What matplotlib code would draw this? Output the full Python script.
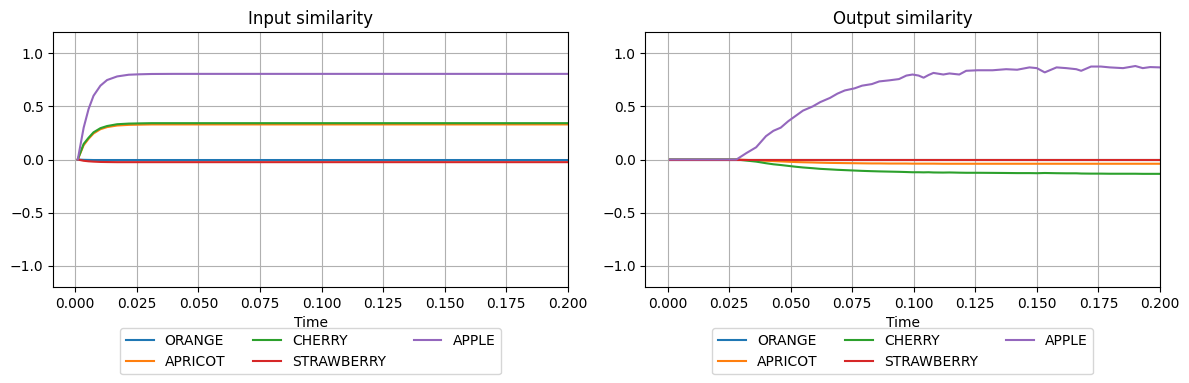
import matplotlib
matplotlib.use("Agg")
import matplotlib.pyplot as plt

labels = ["ORANGE", "APRICOT", "CHERRY", "STRAWBERRY", "APPLE"]

# input similarity
t_in = [0.001, 0.0034, 0.0054, 0.0074, 0.0102, 0.0129, 0.017, 0.0217, 0.026, 0.031, 0.04, 0.06, 0.1, 0.15, 0.2]
in_orange = [0.0, -0.003, -0.004, -0.005, -0.005, -0.005, -0.005, -0.005, -0.005, -0.005, -0.005, -0.005, -0.005, -0.005, -0.005]
in_apricot = [0.0, 0.135, 0.195, 0.245, 0.285, 0.305, 0.32, 0.326, 0.328, 0.33, 0.33, 0.33, 0.33, 0.33, 0.33]
in_cherry = [0.0, 0.147, 0.205, 0.256, 0.295, 0.315, 0.332, 0.338, 0.34, 0.342, 0.342, 0.342, 0.342, 0.342, 0.342]
in_strawberry = [0.0, -0.012, -0.017, -0.02, -0.023, -0.024, -0.025, -0.025, -0.025, -0.025, -0.025, -0.025, -0.025, -0.025, -0.025]
in_apple = [0.0, 0.30, 0.476, 0.60, 0.695, 0.748, 0.782, 0.798, 0.802, 0.805, 0.806, 0.806, 0.806, 0.806, 0.806]

# output similarity
t_out = [0.001, 0.01, 0.02, 0.028, 0.032, 0.036, 0.040, 0.043, 0.046, 0.049, 0.052, 0.055, 0.059, 0.062, 0.066, 0.069,
         0.072, 0.076, 0.079, 0.083, 0.086, 0.090, 0.094, 0.097, 0.0995, 0.102, 0.104, 0.106, 0.108, 0.112, 0.1145,
         0.1185, 0.1213, 0.126, 0.132, 0.1375, 0.142, 0.147, 0.150, 0.1532, 0.158, 0.162, 0.166, 0.168, 0.172,
         0.176, 0.1796, 0.185, 0.19, 0.193, 0.196, 0.2]
out_orange = [0.0] * len(t_out)
out_apricot = [0.0, 0.0, 0.0, 0.0, -0.004, -0.008, -0.012, -0.015, -0.018, -0.021, -0.024, -0.026, -0.028, -0.030, -0.032, -0.033,
               -0.034, -0.035, -0.036, -0.037, -0.037, -0.038, -0.038, -0.038, -0.039, -0.039, -0.039, -0.039, -0.039, -0.040, -0.040,
               -0.040, -0.040, -0.040, -0.040, -0.040, -0.040, -0.040, -0.040, -0.040, -0.040, -0.040, -0.040, -0.040, -0.040,
               -0.040, -0.040, -0.040, -0.040, -0.040, -0.040, -0.040]
out_cherry = [0.0, 0.0, 0.0, 0.0, -0.01, -0.02, -0.035, -0.045, -0.052, -0.06, -0.068, -0.075, -0.082, -0.088, -0.093, -0.097,
              -0.10, -0.104, -0.107, -0.11, -0.112, -0.114, -0.116, -0.118, -0.12, -0.12, -0.121, -0.12, -0.122, -0.123, -0.122,
              -0.124, -0.125, -0.125, -0.126, -0.127, -0.128, -0.128, -0.129, -0.127, -0.129, -0.13, -0.13, -0.132, -0.133,
              -0.133, -0.134, -0.134, -0.134, -0.135, -0.135, -0.135]
out_strawberry = [0.0] * len(t_out)
out_apple = [0.0, 0.0, 0.0, 0.0, 0.06, 0.115, 0.22, 0.27, 0.30, 0.36, 0.41, 0.46, 0.50, 0.54, 0.58, 0.62,
             0.65, 0.67, 0.695, 0.71, 0.735, 0.745, 0.757, 0.79, 0.80, 0.79, 0.77, 0.795, 0.815, 0.80, 0.81,
             0.80, 0.835, 0.84, 0.84, 0.85, 0.845, 0.867, 0.86, 0.82, 0.867, 0.86, 0.85, 0.835, 0.875,
             0.875, 0.867, 0.86, 0.88, 0.86, 0.87, 0.867]

fig, axes = plt.subplots(1, 2, figsize=(11.89, 3.83), dpi=100)
fig.subplots_adjust(left=0.0448, right=0.9756, bottom=0.2507, top=0.9164, wspace=0.151)

series_in = [in_orange, in_apricot, in_cherry, in_strawberry, in_apple]
series_out = [out_orange, out_apricot, out_cherry, out_strawberry, out_apple]

for ax, t, series, title in [(axes[0], t_in, series_in, "Input similarity"),
                             (axes[1], t_out, series_out, "Output similarity")]:
    for lab, y in zip(labels, series):
        ax.plot(t, y, label=lab)
    ax.set_title(title)
    ax.set_xlabel("Time")
    ax.set_xlim(right=0.2)
    ax.set_ylim(-1.2, 1.2)
    ax.grid(True)
    ax.legend(loc="upper center", bbox_to_anchor=(0.5, -0.135), ncol=3)

fig.savefig("out.png")
